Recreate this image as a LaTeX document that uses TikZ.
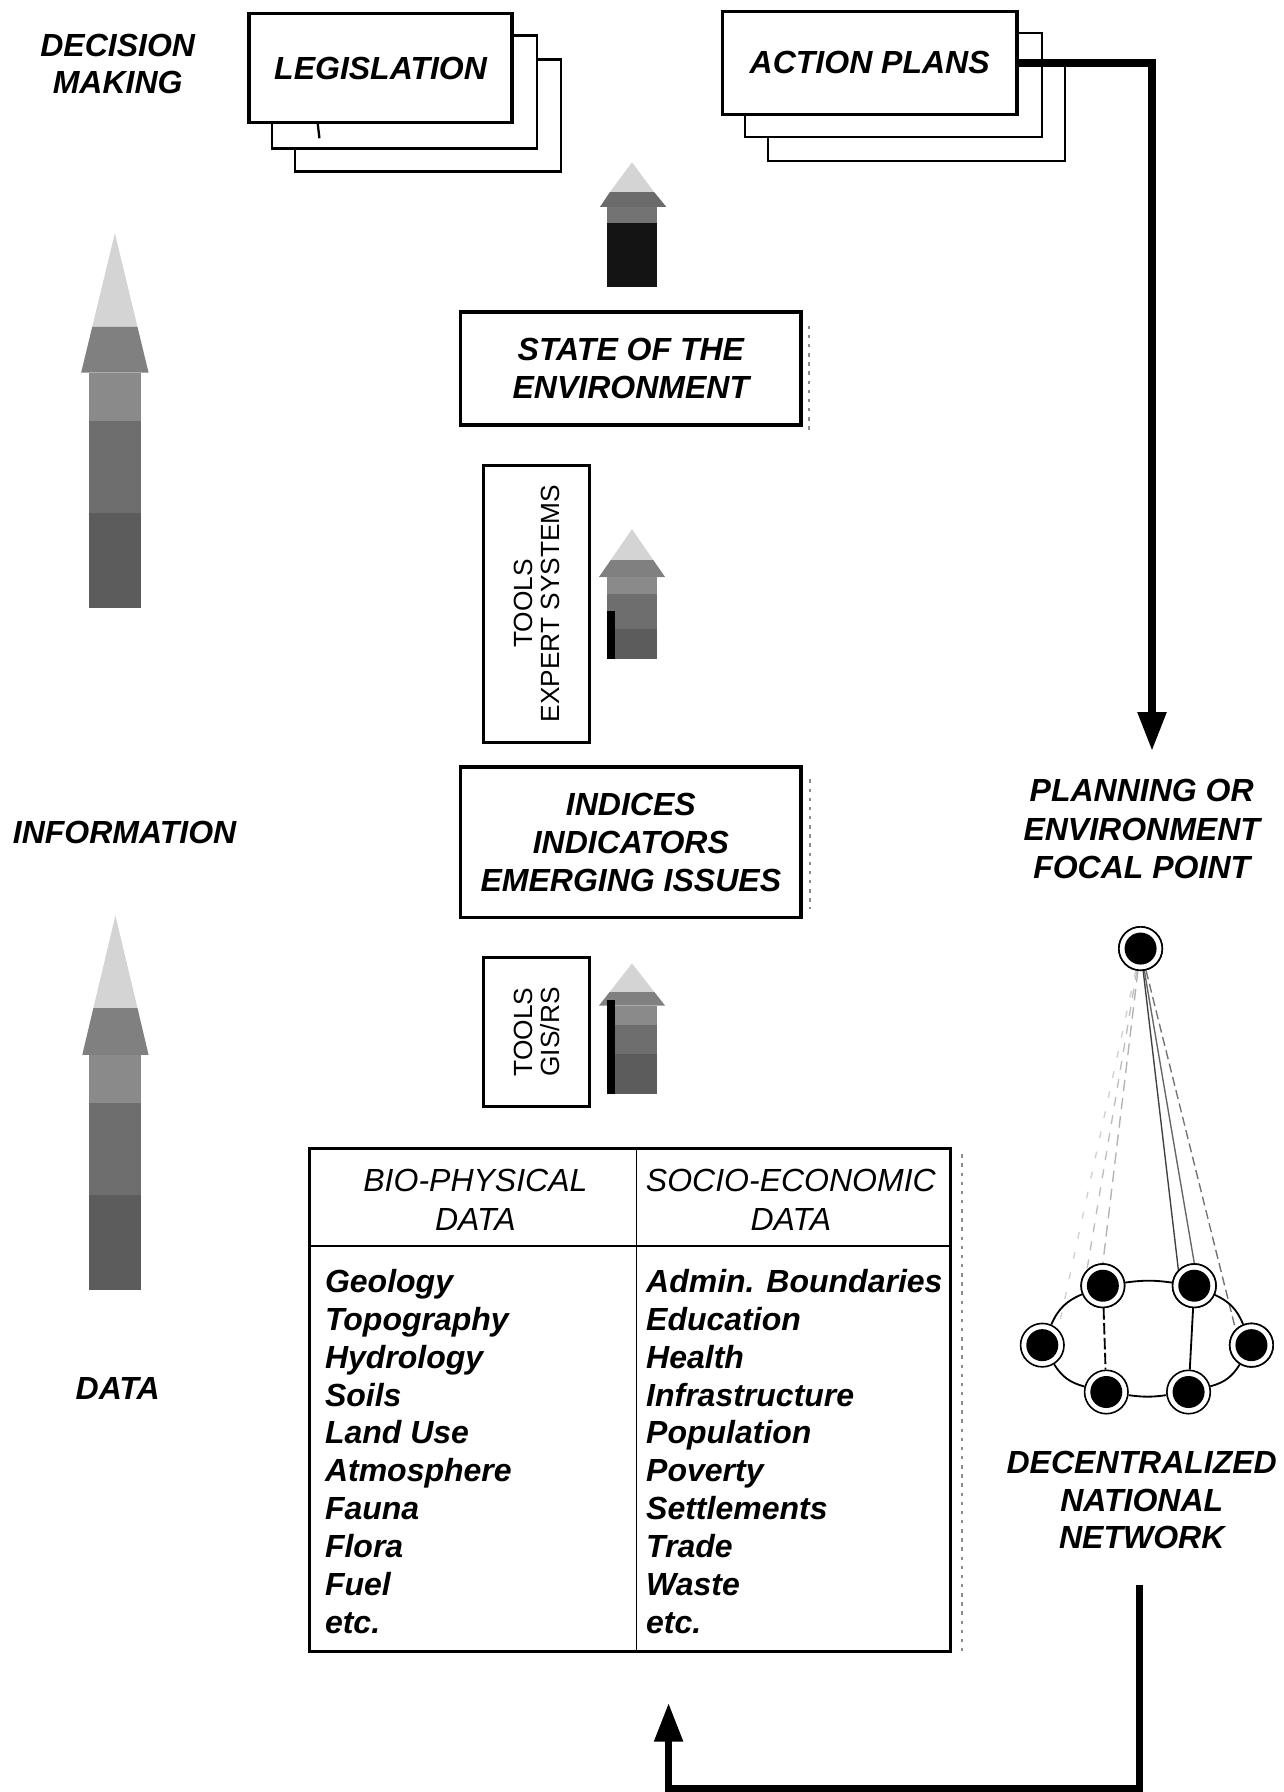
\documentclass[tikz,border=0pt]{standalone}
\usepackage{fontspec}
\setmainfont{Liberation Sans}
\usetikzlibrary{arrows.meta}
\begin{document}
\begin{tikzpicture}[x=0.5pt,y=-0.5pt,
  lbl/.style={font=\bfseries\itshape\fontsize{14}{16.5}\selectfont, align=center, inner sep=0pt},
  frontbox/.style={draw, line width=1.5pt, fill=white, inner sep=0pt, font=\bfseries\itshape\fontsize{14}{16.5}\selectfont, align=center},
  backbox/.style={draw, line width=1pt, fill=white, inner sep=0pt},
  toolbox/.style={draw, line width=1.4pt, fill=white, inner sep=0pt},
  tooltxt/.style={font=\fontsize{11.5}{11.8}\selectfont, align=center, rotate=90, inner sep=0pt},
  item/.style={font=\bfseries\itshape\fontsize{14}{16}\selectfont, anchor=base west, inner sep=0pt},
  hdr/.style={font=\itshape\fontsize{14}{17}\selectfont, align=center, inner sep=0pt},
  flow/.style={line width=3.2pt, -{Triangle[width=12pt,length=17pt]}},
  netnode/.style={circle, draw, line width=0.7pt, fill=white, minimum size=19pt, inner sep=0pt,
    path picture={\fill[black] (path picture bounding box.center) circle (7pt);}},
  ringedge/.style={line width=0.8pt},
  fan/.style={line width=0.6pt},
  scanmark/.style={black!45, line width=0.9pt, dash pattern=on 1.5pt off 2.5pt}
]
\definecolor{tipc}{gray}{0.83}
\definecolor{headc}{gray}{0.50}
\definecolor{bandA}{gray}{0.54}
\definecolor{bandB}{gray}{0.43}
\definecolor{bandC}{gray}{0.36}
\useasboundingbox (0,0) rectangle (1123,1568);

% ---------- left labels ----------
\node[lbl, align=center, font=\bfseries\itshape\fontsize{14}{16}\selectfont] (dm) at (103,56) {DECISION\\MAKING};
\node[lbl] (info) at (109,728) {INFORMATION};
\node[lbl] (data) at (103,1215) {DATA};

% ---------- big left arrows ----------
\fill[tipc] (100.5,204) -- (120.3,286) -- (80.7,286) -- cycle;
\fill[headc] (80.7,286) -- (120.3,286) -- (130,326) -- (71,326) -- cycle;
\fill[bandA] (78,326) rectangle (123,368);
\fill[bandB] (78,368) rectangle (123,449);
\fill[bandC] (78,449) rectangle (123,532);

\fill[tipc] (101,801) -- (120.3,882) -- (81.7,882) -- cycle;
\fill[headc] (81.7,882) -- (120.3,882) -- (130,923) -- (72,923) -- cycle;
\fill[bandA] (78,923) rectangle (123,965);
\fill[bandB] (78,965) rectangle (123,1046);
\fill[bandC] (78,1046) rectangle (123,1129);

% ---------- stacked boxes ----------
\node[backbox, minimum width=116.5pt, minimum height=49pt] (leg3) at (374.5,101) {};
\node[backbox, minimum width=116pt, minimum height=49.5pt] (leg2) at (354,80.5) {};
\node[frontbox, minimum width=115pt, minimum height=47.5pt] (leg) at (333,59.5) {LEGISLATION};
\draw[line width=1pt] (278,108) -- (279.5,121);

\node[backbox, minimum width=130pt, minimum height=42pt] (ap3) at (802,99) {};
\node[backbox, minimum width=130pt, minimum height=45.5pt] (ap2) at (782,74.5) {};
\node[frontbox, minimum width=129pt, minimum height=45pt] (ap) at (761,55) {ACTION PLANS};

% ---------- central column ----------
% small arrow 1
\fill[tipc] (553,142) -- (572.3,168) -- (533.7,168) -- cycle;
\fill[black!58] (533.7,168) -- (572.3,168) -- (583,181) -- (525,181) -- cycle;
\fill[black!55] (531,181) rectangle (575,195);
\fill[black!92] (531,195) rectangle (575,251);

\node[frontbox, minimum width=149pt, minimum height=49.5pt] (soe) at (552,322.5) {STATE OF THE\\ENVIRONMENT};
\draw[scanmark] (708,285) -- (708,376);

\node[toolbox, minimum width=46.5pt, minimum height=121.5pt] (tes) at (469.5,528.5) {};
\node[tooltxt] (testxt) at (470,528) {TOOLS\\EXPERT SYSTEMS};

% small arrow 2
\fill[tipc] (553,463) -- (571.6,490) -- (534.4,490) -- cycle;
\fill[headc] (534.4,490) -- (571.6,490) -- (582,505) -- (524,505) -- cycle;
\fill[bandA] (531,505) rectangle (575,520);
\fill[bandB] (531,520) rectangle (575,550);
\fill[bandC] (531,550) rectangle (575,577);
\fill[black] (531,535) rectangle (538,577);

\node[frontbox, minimum width=149pt, minimum height=66pt] (ind) at (552,737) {INDICES\\INDICATORS\\EMERGING ISSUES};
\draw[scanmark] (709,682) -- (709,795);

\node[toolbox, minimum width=46.5pt, minimum height=65pt] (tgr) at (469.5,903) {};
\node[tooltxt] (tgrtxt) at (470,903) {TOOLS\\GIS/RS};

% small arrow 3
\fill[tipc] (553,843) -- (572.6,868) -- (533.4,868) -- cycle;
\fill[headc] (533.4,868) -- (572.6,868) -- (582,880) -- (524,880) -- cycle;
\fill[bandA] (531,880) rectangle (575,897);
\fill[bandB] (531,897) rectangle (575,922);
\fill[bandC] (531,922) rectangle (575,957);
\fill[black] (531,875) rectangle (538,957);

% ---------- table ----------
\node[draw, line width=1.2pt, minimum width=280.5pt, minimum height=220pt, inner sep=0pt] (tbl) at (551.5,1225) {};
\coordinate (dvtop) at (557,1005);
\coordinate (dvbot) at (557,1445);
\coordinate (hl) at (271,1090);
\coordinate (hr) at (832,1090);
\draw[line width=0.7pt] (dvtop) -- (dvbot);
\draw[line width=0.9pt] (hl) -- (hr);
\draw[scanmark] (842,1010) -- (842,1450);

\node[hdr] (hbp) at (416,1050) {BIO-PHYSICAL\\DATA};
\node[hdr] (hse) at (692,1050) {SOCIO-ECONOMIC\\DATA};

\foreach \t [count=\i] in {Geology,Topography,Hydrology,Soils,Land Use,Atmosphere,Fauna,Flora,Fuel,etc.}
  \node[item] (bp\i) at (284,{1131+33.1*(\i-1)}) {\t};
\foreach \t [count=\i] in {Admin. Boundaries,Education,Health,Infrastructure,Population,Poverty,Settlements,Trade,Waste,etc.}
  \node[item] (se\i) at (565,{1131+33.1*(\i-1)}) {\t};

% ---------- right side ----------
\coordinate (pt) at (1008,657);
\draw[flow] (ap.east) -| (pt);

\node[lbl, font=\bfseries\itshape\fontsize{14}{16.75}\selectfont] (plan) at (999,725.5) {PLANNING OR\\ENVIRONMENT\\FOCAL POINT};

\node[netnode] (fp) at (998,830) {};
\node[netnode] (TL) at (965,1125) {};
\node[netnode] (TR) at (1045,1125) {};
\node[netnode] (L) at (912,1177) {};
\node[netnode] (R) at (1095,1177) {};
\node[netnode] (BL) at (968,1218) {};
\node[netnode] (BR) at (1040,1218) {};

\begin{scope}[on background layer/.style={}]
\draw[fan, black!75] (fp) -- (TR.north west);
\draw[fan, black!60] (fp) -- (TR.north);
\draw[fan, black!55, dash pattern=on 4pt off 2pt] (fp) -- (R.north west);
\draw[fan, black!30, dash pattern=on 5pt off 3pt] (fp) -- (TL.north);
\draw[fan, black!25, dash pattern=on 4pt off 4pt] (fp) -- (TL.north west);
\draw[fan, black!18, dash pattern=on 3pt off 6pt] (fp) -- (L.north east);
\end{scope}
\node[netnode] at (fp) {};
\node[netnode] at (TL) {};
\node[netnode] at (TR) {};
\node[netnode] at (R) {};

\draw[ringedge] (L) to[bend left=22] (TL);
\draw[ringedge] (TL) to[bend left=8] (TR);
\draw[ringedge] (TR) to[bend left=22] (R);
\draw[ringedge] (R) to[bend left=22] (BR);
\draw[ringedge] (BR) to[bend left=8] (BL);
\draw[ringedge] (BL) to[bend left=22] (L);
\draw[ringedge, dash pattern=on 5pt off 1.5pt] (TL) -- (BL);
\draw[ringedge] (TR) -- (BR);

\node[lbl, font=\bfseries\itshape\fontsize{14}{16.25}\selectfont] (dnn) at (999,1312.5) {DECENTRALIZED\\NATIONAL\\NETWORK};

\coordinate (r0) at (997,1387);
\coordinate (r1) at (997,1565);
\coordinate (r2) at (585,1565);
\coordinate (r3) at (585,1490);
\draw[flow] (r0) -- (r1) -- (r2) -- (r3);
\end{tikzpicture}
\end{document}
